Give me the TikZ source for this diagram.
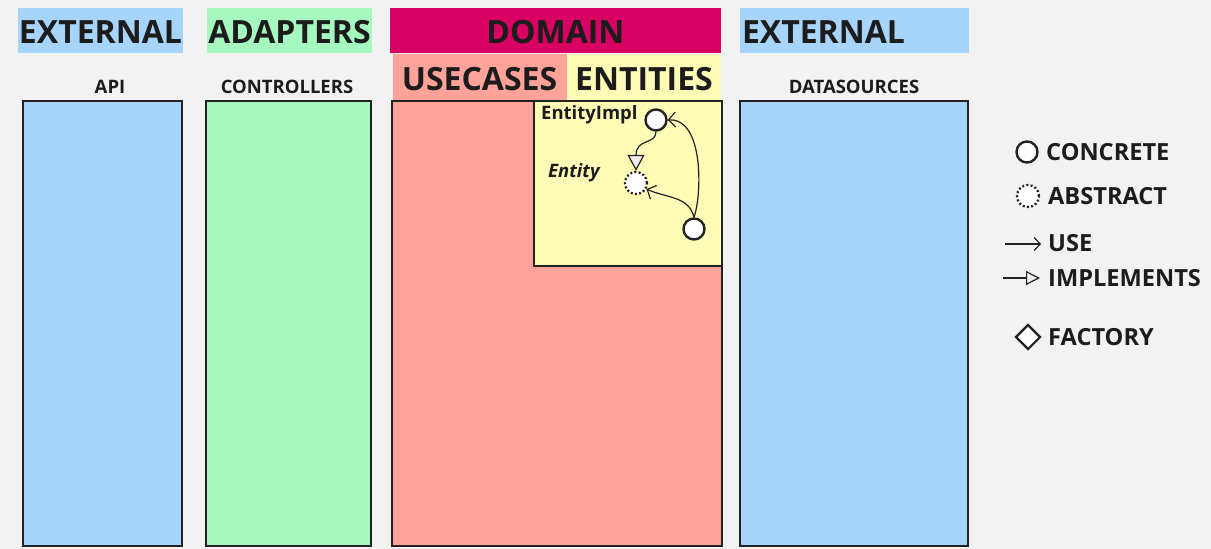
\documentclass[tikz,border=0pt]{standalone}
\usepackage{fontspec}
\setmainfont{Open Sans}
\usetikzlibrary{arrows.meta,shapes.geometric}
\definecolor{bgc}{HTML}{F2F2F2}
\definecolor{extc}{HTML}{A6D4FA}
\definecolor{adpc}{HTML}{A6F9BE}
\definecolor{domc}{HTML}{D80062}
\definecolor{usec}{HTML}{FFA39A}
\definecolor{entc}{HTML}{FFFCB8}
\definecolor{txtc}{HTML}{1C1C1C}
\definecolor{brd}{HTML}{222222}
\tikzset{
  hdr/.style={inner sep=0pt, text=txtc, text height=26pt, text depth=0pt, font=\bfseries\fontsize{32}{36}\selectfont},
  sub/.style={inner sep=0pt, text=txtc, font=\bfseries\fontsize{18.5}{20}\selectfont},
  lgd/.style={inner sep=0pt, anchor=west, text=txtc, font=\bfseries\fontsize{23.6}{26}\selectfont},
  col/.style={draw=brd, line width=2.4pt, inner sep=0pt},
  conc/.style={circle, draw=brd, fill=white, line width=2.4pt, minimum size=21pt, inner sep=0pt},
  abst/.style={circle, draw=brd, fill=white, line width=2.2pt, dash pattern=on 2pt off 2.2pt, minimum size=22pt, inner sep=0pt},
  usearr/.style={draw=brd, line width=1.2pt, -{Straight Barb[length=7pt,width=15pt,line width=1.2pt]}},
  implarr/.style={draw=brd, line width=1.2pt, -{Triangle[length=16pt,width=17pt,line width=1.2pt,fill=black!7]}},
}
\begin{document}
\begin{tikzpicture}[x=1pt,y=-1pt]
\path[fill=bgc] (0,0) rectangle (1211,549);
\useasboundingbox (0,0) rectangle (1211,549);
% headers
\node[hdr, fill=extc, minimum width=165pt, minimum height=45pt] (hext1) at (100.5,30.5) {EXTERNAL};
\node[hdr, fill=adpc, minimum width=165pt, minimum height=45pt] (hadp) at (289.5,30.5) {ADAPTERS};
\node[hdr, fill=domc, minimum width=331pt, minimum height=45pt] (hdom) at (555.5,30.5) {DOMAIN};
\node[hdr, fill=extc, minimum width=229pt, minimum height=45pt, text width=225pt, align=left] (hext2) at (854.5,30.5) {EXTERNAL};
\node[hdr, fill=usec, minimum width=174pt, minimum height=46pt] (huse) at (479.5,77) {USECASES};
\node[hdr, fill=entc, minimum width=154pt, minimum height=46pt] (hent) at (644,77) {ENTITIES};
% column labels
\node[sub] (lapi) at (110,86.5) {API};
\node[sub] (lctl) at (287,86.5) {CONTROLLERS};
\node[sub] (lds) at (854,86.5) {DATASOURCES};
% columns
\node[col, fill=extc, minimum width=159pt, minimum height=445pt] (capi) at (102.5,323.5) {};
\node[col, fill=adpc, minimum width=165pt, minimum height=445pt] (cctl) at (288.5,323.5) {};
\node[col, fill=usec, minimum width=330pt, minimum height=445pt] (cuse) at (557,323.5) {};
\node[col, fill=entc, minimum width=188pt, minimum height=165pt] (cent) at (628,183.5) {};
\node[col, fill=extc, minimum width=228pt, minimum height=445pt] (cds) at (854,323.5) {};
% entity content
\node[inner sep=0pt, anchor=west, text=txtc, font=\bfseries\fontsize{18.5}{20}\selectfont] (timpl) at (541,115) {EntityImpl};
\node[inner sep=0pt, anchor=west, text=txtc, font=\bfseries\itshape\fontsize{18.5}{20}\selectfont] (tent) at (548,172.5) {Entity};
\node[conc] (impl) at (656,120) {};
\node[abst] (ent) at (636,183) {};
\node[conc] (user) at (694,229) {};
\draw[implarr] (impl.south) .. controls (656,145) and (636,138) .. (ent.north);
\draw[usearr] (user.north) .. controls (702,195) and (704,118) .. (impl.east);
\draw[usearr] (user.north) .. controls (689,196) and (666,198) .. (ent.-30);
% legend
\node[conc] (lc) at (1027,152) {};
\node[lgd] (tc) at (1046,152.5) {CONCRETE};
\node[abst] (la) at (1028,196) {};
\node[lgd] (ta) at (1048,196.5) {ABSTRACT};
\coordinate (u1) at (1005,244);
\coordinate (u2) at (1041,244);
\draw[brd, line width=1.2pt, -{Straight Barb[length=6pt,width=13pt,line width=1.2pt]}] (u1) -- (u2);
\node[lgd] (tu) at (1048,243.5) {USE};
\coordinate (i1) at (1003,278);
\coordinate (i2) at (1040,278);
\draw[brd, line width=1.2pt, -{Triangle[open,length=14pt,width=14pt,line width=1.2pt]}] (i1) -- (i2);
\node[lgd] (ti) at (1048,278.5) {IMPLEMENTS};
\node[diamond, draw=brd, fill=white, line width=2.2pt, minimum size=25pt, inner sep=0pt] (lf) at (1028,337) {};
\node[lgd] (tf) at (1048,337.5) {FACTORY};
\end{tikzpicture}
\end{document}
